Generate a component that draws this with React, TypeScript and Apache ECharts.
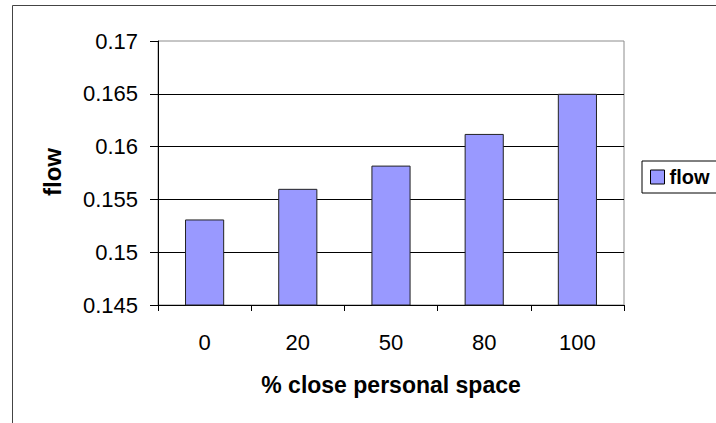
import React, { useEffect, useRef } from "react";
import * as echarts from "echarts";

const categories = ["0", "20", "50", "80", "100"];
const flowValues = [0.1531, 0.156, 0.1582, 0.1612, 0.165];
const seriesName = "flow";
const xTitle = "% close personal space";
const yTitle = "flow";

export default function App() {
  const ref = useRef<HTMLDivElement>(null);
  useEffect(() => {
    const chart = echarts.init(ref.current!, null, { renderer: "svg" });
    const font = "Arial, 'Liberation Sans', sans-serif";
    chart.setOption({
      animation: false,
      backgroundColor: "#ffffff",
      grid: {
        left: 158,
        top: 41,
        right: 92,
        bottom: 118,
        show: true,
        borderColor: "#8c8c8c",
        borderWidth: 1,
        backgroundColor: "transparent",
      },
      legend: {
        show: true,
        left: 642,
        top: 161,
        orient: "vertical",
        data: [seriesName],
        icon: "rect",
        itemWidth: 14,
        itemHeight: 14,
        itemGap: 4,
        borderColor: "#000",
        borderWidth: 1,
        borderRadius: 0,
        padding: [6, 30, 6, 8],
        textStyle: { fontFamily: font, fontSize: 20, fontWeight: "bold", color: "#000" },
        itemStyle: { borderColor: "#000", borderWidth: 1 },
      },
      xAxis: {
        type: "category",
        data: categories,
        axisLine: { show: true, lineStyle: { color: "#000", width: 1 } },
        axisTick: { show: true, length: 6, alignWithLabel: false, lineStyle: { color: "#000" } },
        axisLabel: { margin: 26, fontFamily: font, fontSize: 22, color: "#000" },
        splitLine: { show: false },
      },
      yAxis: {
        type: "value",
        min: 0.145,
        max: 0.17,
        interval: 0.005,
        axisLine: { show: true, lineStyle: { color: "#000", width: 1 } },
        axisTick: { show: true, length: 8, lineStyle: { color: "#000" } },
        axisLabel: {
          margin: 20,
          fontFamily: font,
          fontSize: 22,
          color: "#000",
          formatter: (v: number) => String(parseFloat(v.toFixed(3))),
        },
        splitLine: { show: true, showMaxLine: false, showMinLine: false, lineStyle: { color: "#000", width: 1 } },
      },
      graphic: [
        {
          type: "rect",
          shape: { x: 12.5, y: 5.5, width: 900, height: 600 },
          style: { fill: "none", stroke: "#444", lineWidth: 1 },
          z: 100,
          silent: true,
        },
        {
          type: "text",
          x: 391,
          y: 385,
          style: {
            text: xTitle,
            fontFamily: font,
            fontSize: 23,
            fontWeight: "bold",
            fill: "#000",
            align: "center",
            verticalAlign: "middle",
          },
        },
        {
          type: "text",
          x: 52,
          y: 172,
          rotation: Math.PI / 2,
          style: {
            text: yTitle,
            fontFamily: font,
            fontSize: 24,
            fontWeight: "bold",
            fill: "#000",
            align: "center",
            verticalAlign: "middle",
          },
        },
      ],
      series: [
        {
          name: seriesName,
          type: "bar",
          data: flowValues,
          barWidth: "42%",
          itemStyle: { color: "#9999ff", borderColor: "#222", borderWidth: 1 },
        },
      ],
    });
    return () => chart.dispose();
  }, []);
  return (
    <div
      ref={ref}
      style={{ position: "fixed", left: 0, top: 0, width: 716, height: 423, background: "#fff" }}
    />
  );
}
